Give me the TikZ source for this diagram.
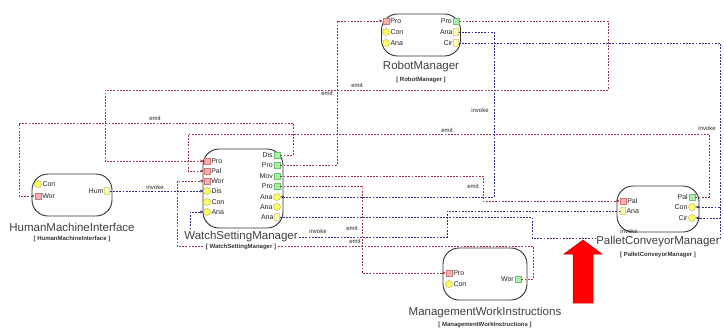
\documentclass[tikz,border=0pt]{standalone}
\usepackage{fontspec}
\setmainfont{Liberation Sans}
\usetikzlibrary{arrows.meta}
\definecolor{emitc}{HTML}{A03848}
\definecolor{invc}{HTML}{30308C}
\definecolor{sinkf}{HTML}{F6B0B0}
\definecolor{sinkd}{HTML}{D07878}
\definecolor{srcf}{HTML}{A8F0A8}
\definecolor{srcd}{HTML}{70C070}
\definecolor{provf}{HTML}{FFFF66}
\definecolor{provd}{HTML}{B0B030}
\definecolor{reqf}{HTML}{FFFFB8}
\definecolor{reqd}{HTML}{D8D890}
\begin{document}
\begin{tikzpicture}[x=1pt,y=-1pt,
  comp/.style={draw=black!80,line width=0.9pt,fill=white,rounded corners=16pt,inner sep=0pt},
  sink/.style={rectangle,draw=sinkd,fill=sinkf,minimum size=6.5pt,inner sep=0pt},
  src/.style={rectangle,draw=srcd,fill=srcf,minimum size=6.5pt,inner sep=0pt},
  prov/.style={circle,draw=provd,fill=provf,minimum size=7pt,inner sep=0pt},
  req/.style={rectangle,draw=reqd,fill=reqf,minimum width=5pt,minimum height=7pt,inner sep=0pt},
  pl/.style={font=\fontsize{7}{8}\selectfont,inner sep=0.6pt,text=black!85},
  cname/.style={font=\fontsize{11.5}{12}\selectfont,text=black!75,fill=white,inner sep=0.5pt},
  csub/.style={font=\fontsize{6}{7}\selectfont\bfseries,text=black!80,fill=white,inner sep=0.5pt},
  clab/.style={font=\fontsize{6}{7}\selectfont,text=black!85,inner sep=0.5pt},
  emit/.style={draw=emitc,line width=0.6pt,dash pattern=on 1.8pt off 1.4pt,-{Triangle[length=3pt,width=3pt]}},
  inv/.style={draw=invc,line width=0.6pt,dash pattern=on 1.8pt off 1.4pt,-{Triangle[length=3pt,width=3pt]}}
]
\useasboundingbox (0,0) rectangle (724,333);

% components
\node[comp,minimum width=79pt,minimum height=42pt] (rm) at (421,35) {};
\node[comp,minimum width=80pt,minimum height=42pt] (hmi) at (72,195) {};
\node[comp,minimum width=80pt,minimum height=79pt] (wsm) at (243,188.5) {};
\node[comp,minimum width=82pt,minimum height=46pt] (pcm) at (658,209) {};
\node[comp,minimum width=84pt,minimum height=52pt] (mwi) at (485,274) {};

% RobotManager ports
\node[sink,label={[pl]right:Pro}] (rmproi) at (386,21) {};
\node[prov,label={[pl]right:Con}] (rmcon) at (386,32) {};
\node[prov,label={[pl]right:Ana}] (rmana) at (386,43) {};
\node[src,label={[pl]left:Pro}] (rmproo) at (456,21) {};
\node[req,label={[pl]left:Ana}] (rmanao) at (456,32) {};
\node[req,label={[pl]left:Cir}] (rmciro) at (456,43) {};

% HumanMachineInterface ports
\node[prov,label={[pl]right:Con}] (hmicon) at (38,184) {};
\node[sink,label={[pl]right:Wor}] (hmiwor) at (38,196) {};
\node[req,label={[pl]left:Hum}] (hmihum) at (107,191) {};

% WatchSettingManager ports
\node[sink,label={[pl]right:Pro}] (wproi) at (207,161) {};
\node[sink,label={[pl]right:Pal}] (wpali) at (207,171) {};
\node[sink,label={[pl]right:Wor}] (wwori) at (207,181) {};
\node[prov,label={[pl]right:Dis}] (wdisi) at (207,191) {};
\node[prov,label={[pl]right:Con}] (wconi) at (207,202) {};
\node[prov,label={[pl]right:Ana}] (wanai) at (207,212) {};
\node[src,label={[pl]left:Dis}] (wdiso) at (277,155) {};
\node[src,label={[pl]left:Pro}] (wproo) at (277,165) {};
\node[src,label={[pl]left:Mov}] (wmovo) at (277,176) {};
\node[src,label={[pl]left:Pro}] (wprob) at (277,186) {};
\node[prov,label={[pl]left:Ana}] (wanaa) at (277,197) {};
\node[prov,label={[pl]left:Ana}] (wanab) at (277,207) {};
\node[req,label={[pl]left:Ana}] (wanac) at (277,217) {};

% PalletConveyorManager ports
\node[sink,label={[pl]right:Pal}] (ppali) at (623,201) {};
\node[req,label={[pl]right:Ana}] (panao) at (623,211) {};
\node[src,label={[pl]left:Pal}] (ppalo) at (692,197) {};
\node[prov,label={[pl]left:Con}] (pconi) at (692,207) {};
\node[prov,label={[pl]left:Cir}] (pciri) at (692,218) {};

% ManagementWorkInstructions ports
\node[sink,label={[pl]right:Pro}] (mproi) at (449,273) {};
\node[prov,label={[pl]right:Con}] (mconi) at (449,284) {};
\node[src,label={[pl]left:Wor}] (mworo) at (518,279) {};

% emit connectors
\draw[emit] (wdiso.east) -- (293,155) -- (293,123) -- (19,123) -- (19,196) -- (hmiwor.west);
\draw[emit] (rmproo.east) -- (608,21) -- (608,90) -- (105,90) -- (105,161) -- (wproi.west);
\draw[emit] (wproo.east) -- (337,165) -- (337,21) -- (rmproi.west);
\draw[emit] (ppalo.east) -- (709,197) -- (709,134) -- (188,134) -- (188,171) -- (wpali.west);
\draw[emit] (wmovo.east) -- (483,176) -- (483,201) -- (ppali.west);
\draw[emit] (wprob.east) -- (362,186) -- (362,273) -- (mproi.west);
\draw[emit] (mworo.east) -- (533,279) -- (533,246) -- (177,246) -- (177,181) -- (wwori.west);

% invoke connectors
\draw[inv] (hmihum.east) -- (wdisi.west);
\draw[inv] (rmanao.east) -- (494,32) -- (494,197) -- (wanaa.east);
\draw[inv] (rmciro.east) -- (720,43) -- (720,218) -- (pciri.east);
\draw[inv] (panao.west) -- (447,211) -- (447,237) -- (190,237) -- (190,212) -- (wanai.west);
\draw[inv] (wanac.east) -- (532,217) -- (532,238) -- (720,238) -- (720,207) -- (pconi.east);

% component names
\node[cname] (rmn) at (421,67) {RobotManager};
\node[csub] (rms) at (421,80) {[ RobotManager ]};
\node[cname] (hmin) at (72,227) {HumanMachineInterface};
\node[csub] (hmis) at (72,239) {[ HumanMachineInterface ]};
\node[cname] (wsmn) at (241,237) {WatchSettingManager};
\node[csub] (wsms) at (241,247) {[ WatchSettingManager ]};
\node[cname] (pcmn) at (658,242) {PalletConveyorManager};
\node[csub] (pcms) at (658,255) {[ PalletConveyorManager ]};
\node[cname] (mwin) at (485,313) {ManagementWorkInstructions};
\node[csub] (mwis) at (485,325) {[ ManagementWorkInstructions ]};

% connector labels
\node[clab] (e1) at (155,118) {emit};
\node[clab] (e2) at (357,85) {emit};
\node[clab] (e3) at (327,93) {emit};
\node[clab] (e4) at (447,130) {emit};
\node[clab] (e5) at (473,186) {emit};
\node[clab] (e6) at (352,228) {emit};
\node[clab] (e7) at (355,241) {emit};
\node[clab] (i1) at (155,187) {invoke};
\node[clab] (i2) at (480,110) {invoke};
\node[clab] (i3) at (707,128) {invoke};
\node[clab] (i4) at (318,231) {invoke};
\node[clab] (i5) at (629,231.5) {invoke};

% big red arrow
\filldraw[fill=red,draw=red!75!black,line width=0.5pt]
  (573,303) -- (593,303) -- (593,254) -- (602,254) -- (583,240) -- (564,254) -- (573,254) -- cycle;
\end{tikzpicture}
\end{document}
